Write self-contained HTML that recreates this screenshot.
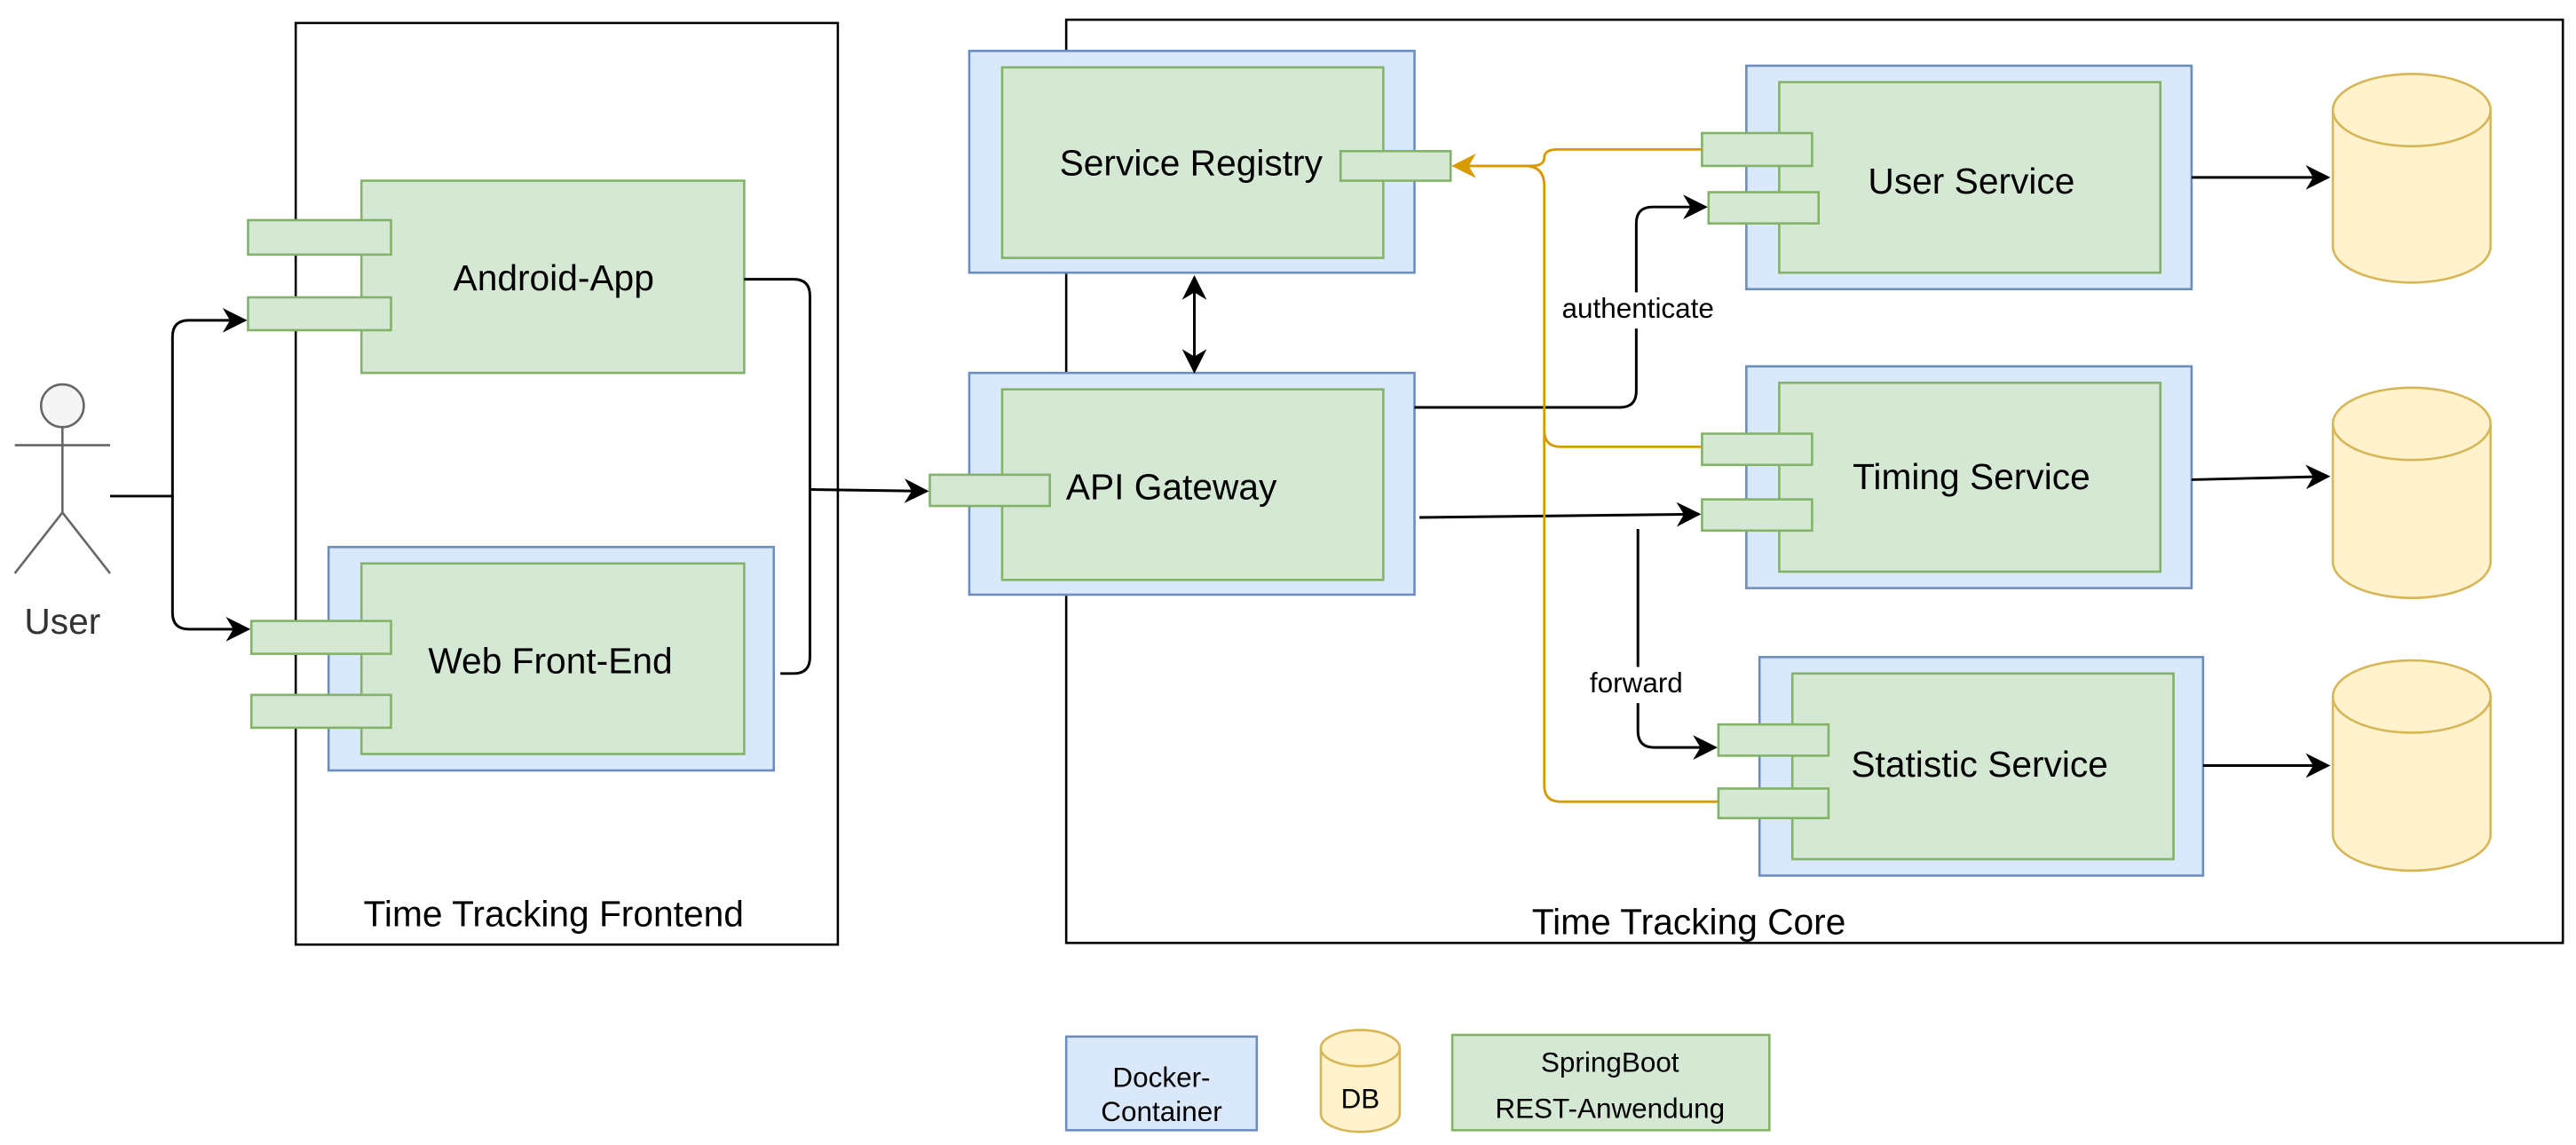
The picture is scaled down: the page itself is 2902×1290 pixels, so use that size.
<!DOCTYPE html>
<html><head><meta charset="utf-8"><style>
html,body{margin:0;padding:0;background:#fff;}
svg{display:block;}
text{font-family:"Liberation Sans",Arial,sans-serif;fill:#000;text-anchor:middle;dominant-baseline:middle;}
</style></head><body>
<svg width="2902" height="1290" viewBox="0 0 1568 697" preserveAspectRatio="none" xmlns="http://www.w3.org/2000/svg">
<defs>
<marker id="ab" viewBox="0 0 10 10" refX="9" refY="5" markerWidth="15" markerHeight="15" markerUnits="userSpaceOnUse" orient="auto-start-reverse"><path d="M0,0 L10,5 L0,10 L3,5 Z" fill="#000"/></marker>
<marker id="ao" viewBox="0 0 10 10" refX="9" refY="5" markerWidth="15" markerHeight="15" markerUnits="userSpaceOnUse" orient="auto"><path d="M0,0 L10,5 L0,10 L3,5 Z" fill="#d79b00"/></marker>
</defs>
<g stroke-width="1.4">
<rect x="180" y="14" width="330" height="561" fill="none" stroke="#000"/>
<rect x="649" y="12" width="911" height="562" fill="none" stroke="#000"/>
<rect x="220" y="110" width="233" height="117" fill="#d5e8d4" stroke="#82b366"/>
<rect x="151" y="134" width="87" height="21" fill="#d5e8d4" stroke="#82b366"/>
<rect x="151" y="181" width="87" height="20" fill="#d5e8d4" stroke="#82b366"/>
<rect x="200" y="333" width="271" height="136" fill="#dae8fc" stroke="#6c8ebf"/>
<rect x="220" y="343" width="233" height="116" fill="#d5e8d4" stroke="#82b366"/>
<rect x="153" y="378" width="85" height="20" fill="#d5e8d4" stroke="#82b366"/>
<rect x="153" y="423" width="85" height="20" fill="#d5e8d4" stroke="#82b366"/>
<rect x="590" y="31" width="271" height="135" fill="#dae8fc" stroke="#6c8ebf"/>
<rect x="610" y="41" width="232" height="116" fill="#d5e8d4" stroke="#82b366"/>
<rect x="816" y="92" width="67" height="18" fill="#d5e8d4" stroke="#82b366"/>
<rect x="590" y="227" width="271" height="135" fill="#dae8fc" stroke="#6c8ebf"/>
<rect x="610" y="237" width="232" height="116" fill="#d5e8d4" stroke="#82b366"/>
<rect x="566" y="289" width="73" height="19" fill="#d5e8d4" stroke="#82b366"/>
<rect x="1063" y="40" width="271" height="136" fill="#dae8fc" stroke="#6c8ebf"/>
<rect x="1083" y="50" width="232" height="116" fill="#d5e8d4" stroke="#82b366"/>
<rect x="1036" y="81" width="67" height="20" fill="#d5e8d4" stroke="#82b366"/>
<rect x="1040" y="117" width="67" height="19" fill="#d5e8d4" stroke="#82b366"/>
<rect x="1063" y="223" width="271" height="135" fill="#dae8fc" stroke="#6c8ebf"/>
<rect x="1083" y="233" width="232" height="115" fill="#d5e8d4" stroke="#82b366"/>
<rect x="1036" y="264" width="67" height="19" fill="#d5e8d4" stroke="#82b366"/>
<rect x="1036" y="304" width="67" height="19" fill="#d5e8d4" stroke="#82b366"/>
<rect x="1071" y="400" width="270" height="133" fill="#dae8fc" stroke="#6c8ebf"/>
<rect x="1091" y="410" width="232" height="113" fill="#d5e8d4" stroke="#82b366"/>
<rect x="1046" y="441" width="67" height="19" fill="#d5e8d4" stroke="#82b366"/>
<rect x="1046" y="480" width="67" height="18" fill="#d5e8d4" stroke="#82b366"/>
<g fill="#fff2cc" stroke="#d6b656">
<path d="M1420,67 A48,22 0 0 1 1516,67 L1516,150 A48,22 0 0 1 1420,150 Z"/><path d="M1420,67 A48,22 0 0 0 1516,67" fill="none"/>
<path d="M1420,258 A48,22 0 0 1 1516,258 L1516,342 A48,22 0 0 1 1420,342 Z"/><path d="M1420,258 A48,22 0 0 0 1516,258" fill="none"/>
<path d="M1420,424 A48,22 0 0 1 1516,424 L1516,508 A48,22 0 0 1 1420,508 Z"/><path d="M1420,424 A48,22 0 0 0 1516,424" fill="none"/>
<path d="M804,638 A24,11 0 0 1 852,638 L852,678 A24,11 0 0 1 804,678 Z"/><path d="M804,638 A24,11 0 0 0 852,638" fill="none"/>
</g>
<rect x="649" y="631" width="116" height="57" fill="#dae8fc" stroke="#6c8ebf"/>
<rect x="884" y="630" width="193" height="58" fill="#d5e8d4" stroke="#82b366"/>
<g stroke="#666" fill="none">
<circle cx="38" cy="247" r="13" fill="#f5f5f5"/>
<path d="M38,260 V312 M9,271 H67 M38,312 L9,349 M38,312 L67,349"/>
</g>
<g stroke="#000" fill="none" stroke-width="1.6">
<path d="M67,302 H105 V205 Q105,195 115,195 H149" marker-end="url(#ab)"/>
<path d="M105,302 V373 Q105,383 115,383 H151" marker-end="url(#ab)"/>
<path d="M453,170 H483 Q493,170 493,180 V400 Q493,410 483,410 H475"/>
<path d="M493,298 L564,299" marker-end="url(#ab)"/>
<path d="M727,169 V226" marker-start="url(#ab)" marker-end="url(#ab)"/>
<path d="M861,248 H986 Q996,248 996,238 V136 Q996,126 1006,126 H1038" marker-end="url(#ab)"/>
<path d="M864,315 L1034,313" marker-end="url(#ab)"/>
<path d="M997,322 V445 Q997,455 1007,455 H1044" marker-end="url(#ab)"/>
<path d="M1334,108 H1417" marker-end="url(#ab)"/>
<path d="M1334,292 L1417,290" marker-end="url(#ab)"/>
<path d="M1341,466 H1417" marker-end="url(#ab)"/>
</g>
<g stroke="#d79b00" fill="none" stroke-width="1.5">
<path d="M1036,91 H948 Q940,91 940,96 Q940,101 932,101 H885" marker-end="url(#ao)"/>
<path d="M900,101 H928 Q940,101 940,113 V262 Q940,272 950,272 H1036"/>
<path d="M940,262 V478 Q940,488 950,488 H1046"/>
</g>
</g>
<rect x="946" y="178" width="102" height="22" fill="#fff"/>
<rect x="964" y="406" width="66" height="22" fill="#fff"/>
<g font-size="22">
<text x="337" y="171">Android-App</text>
<text x="335" y="404">Web Front-End</text>
<text x="725" y="101">Service Registry</text>
<text x="713" y="298">API Gateway</text>
<text x="1200" y="112">User Service</text>
<text x="1200" y="292">Timing Service</text>
<text x="1205" y="467">Statistic Service</text>
<text x="337" y="558">Time Tracking Frontend</text>
<text x="1028" y="563">Time Tracking Core</text>
<text x="38" y="380" style="fill:#333">User</text>
</g>
<g font-size="17">
<text x="997" y="189">authenticate</text>
<text x="996" y="417">forward</text>
<text x="707" y="657">Docker-</text>
<text x="707" y="678">Container</text>
<text x="828" y="670">DB</text>
<text x="980" y="648">SpringBoot</text>
<text x="980" y="676">REST-Anwendung</text>
</g>
</svg>
</body></html>
